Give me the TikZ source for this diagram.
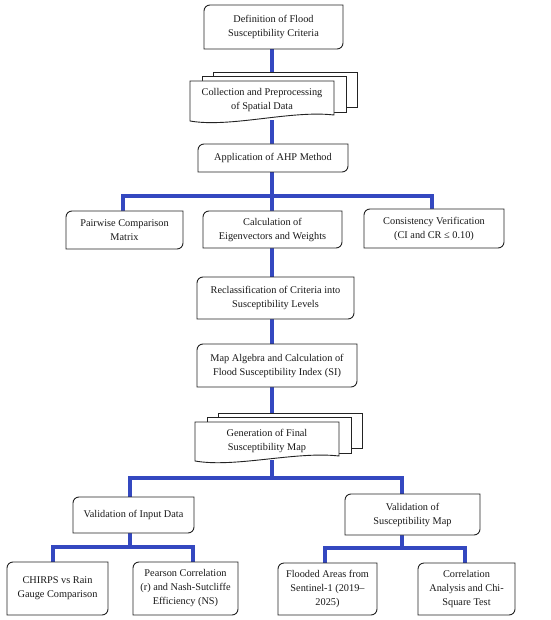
\documentclass[tikz,border=0pt]{standalone}
\usepackage{fontspec}
\setmainfont{Liberation Serif}
\usetikzlibrary{calc}
\pgfdeclarelayer{bg}
\pgfsetlayers{bg,main}
\definecolor{connblue}{RGB}{52,72,192}
\definecolor{bordc}{RGB}{35,35,35}
\definecolor{txtc}{RGB}{25,25,25}
\tikzset{
  bline/.style={draw=bordc, line width=0.9pt, fill=white},
  txt/.style={inner sep=0pt, align=center, text=txtc, font=\fontsize{10.3}{14}\selectfont},
  conn/.style={draw=connblue, line width=4.5pt}
}
% rounded-diagonal box: name, xl, yt, xr, yb, text
\newcommand\rdbox[6]{%
  \filldraw[bline] (#2,-#5) -- (#2,{-#3-6}) arc[start angle=180,end angle=90,radius=6]
    -- (#4,-#3) -- (#4,{-#5+6}) arc[start angle=0,end angle=-90,radius=6] -- cycle;
  \node[txt, minimum width={#4-#2}, minimum height={#5-#3}] (#1) at ({(#2+#4)/2},{-(#3+#5)/2}) {#6};
}
% multi-document: name, xl, xr, yt, ybl, ybr, text
\newcommand\mdoc[7]{%
  \filldraw[bline] ({#2+23},{-#4+9}) rectangle ({#3+23},{-#4-26});
  \filldraw[bline] ({#2+12},{-#4+5}) rectangle ({#3+12},{-#4-31});
  \filldraw[bline] (#2,-#4) -- (#3,-#4) -- (#3,-#6)
    .. controls ({#2+0.7*(#3-#2)},{-#6+5}) and ({#2+0.28*(#3-#2)},{-#5-7}) .. (#2,-#5) -- cycle;
  \node[txt, minimum width={#3-#2}, minimum height={#5-#4}] (#1) at ({(#2+#3)/2},{-(#4+#5)/2+1}) {#7};
}
\begin{document}
\begin{tikzpicture}[x=1pt,y=1pt]
\useasboundingbox (0,0) rectangle (550,-620);

\rdbox{def}{204}{5}{343}{49}{Definition of Flood\\Susceptibility Criteria}
\mdoc{coll}{190}{334}{81}{121}{115}{Collection and Preprocessing\\of Spatial Data}
\rdbox{ahp}{198}{144}{348}{172}{Application of AHP Method}
\rdbox{pair}{66}{211}{183}{249}{Pairwise Comparison\\Matrix}
\rdbox{calc}{203}{211}{342}{248}{Calculation of\\Eigenvectors and Weights}
\rdbox{cons}{364}{209}{504}{248}{Consistency Verification\\(CI and CR ≤ 0.10)}
\rdbox{recl}{197}{277}{354}{319}{Reclassification of Criteria into\\Susceptibility Levels}
\rdbox{mapalg}{197}{344}{357}{387}{Map Algebra and Calculation of\\Flood Susceptibility Index (SI)}
\mdoc{gen}{195}{339}{422}{461}{456}{Generation of Final\\Susceptibility Map}
\rdbox{valin}{73}{497}{194}{533}{Validation of Input Data}
\rdbox{valmap}{345}{494}{480}{535}{Validation of\\Susceptibility Map}
\rdbox{chirps}{7}{562}{108}{615}{CHIRPS vs Rain\\Gauge Comparison}
\rdbox{pearson}{133}{562}{238}{615}{Pearson Correlation\\(r) and Nash-Sutcliffe\\Efficiency (NS)}
\rdbox{flooded}{278}{563}{377}{615}{Flooded Areas from\\Sentinel-1 (2019–\\2025)}
\rdbox{corr}{418}{563}{515}{615}{Correlation\\Analysis and Chi-\\Square Test}

\coordinate (sp) at (272,0);
\coordinate (dl) at (130,0);
\coordinate (dr) at (402,0);
\coordinate (bar1) at (272,-196);
\coordinate (bar2) at (272,-478);
\coordinate (bar3) at (130,-547);
\coordinate (bar4) at (402,-548);
\coordinate (d1) at (53,0);
\coordinate (d2) at (193,0);
\coordinate (d3) at (325,0);
\coordinate (d4) at (465,0);

\begin{pgfonlayer}{bg}
\draw[conn] (def.south -| sp) -- (coll.north -| sp);
\draw[conn] (coll.south -| sp) -- (ahp.north -| sp);
\draw[conn] (ahp.south -| sp) -- (calc.north -| sp);
\draw[conn] ([xshift=-1.5]pair.north) |- (bar1) -| ([xshift=-2]cons.north);
\draw[conn] (calc.south -| sp) -- (recl.north -| sp);
\draw[conn] (recl.south -| sp) -- (mapalg.north -| sp);
\draw[conn] (mapalg.south -| sp) -- (gen.north -| sp);
\draw[conn] (gen.south -| sp) -- (bar2);
\draw[conn] (valin.north -| dl) |- (bar2) -| (valmap.north -| dr);
\draw[conn] (valin.south -| dl) -- (bar3);
\draw[conn] (chirps.north -| d1) |- (bar3) -| (pearson.north -| d2);
\draw[conn] (valmap.south -| dr) -- (bar4);
\draw[conn] (flooded.north -| d3) |- (bar4) -| (corr.north -| d4);
\end{pgfonlayer}
\end{tikzpicture}
\end{document}
